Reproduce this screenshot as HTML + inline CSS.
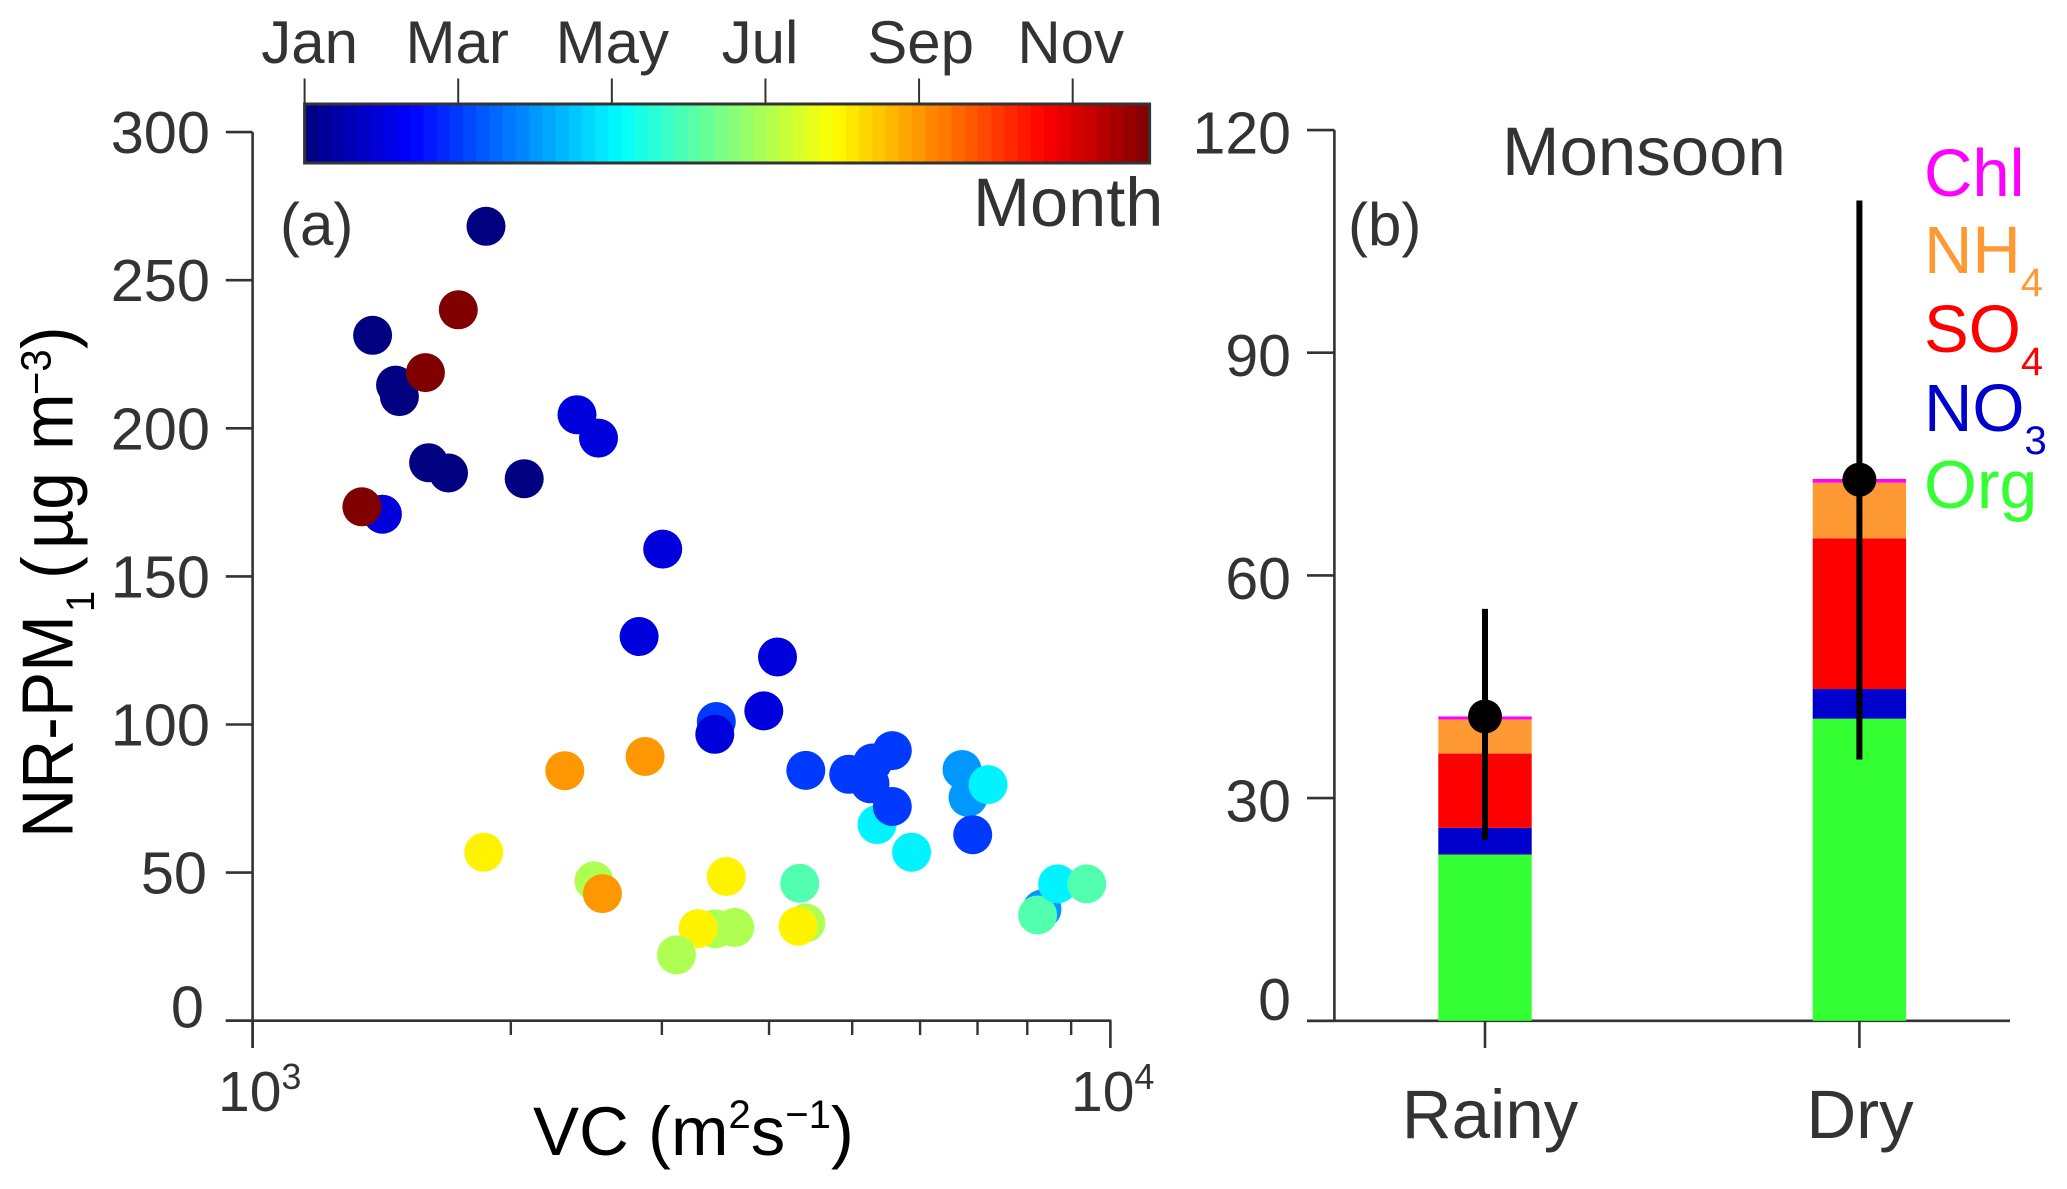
<!DOCTYPE html>
<html lang="en">
<head>
<meta charset="utf-8">
<title>NR-PM1 vs VC and Monsoon composition</title>
<style>
html,body{margin:0;padding:0;background:#fff;}
svg{display:block;}
text{font-family:"Liberation Sans",Arial,sans-serif;}
</style>
</head>
<body>
<svg id="chart" xmlns="http://www.w3.org/2000/svg" width="2067" height="1189" viewBox="0 0 2067 1189">
<rect x="0" y="0" width="2067" height="1189" fill="#fff"/>
<g id="panelA"></g>
<g id="panelB"></g>
<text transform="translate(72.7,838) rotate(-90) scale(1,1.06)" font-size="68" fill="#000">NR-PM<tspan x="226" dy="20" font-size="38">1</tspan><tspan x="259" dy="-20">(</tspan><tspan x="289">µg</tspan><tspan x="388">m</tspan><tspan x="443" dy="-21" font-size="40">−3</tspan><tspan x="489" dy="21">)</tspan></text>
<text x="533" y="1155" font-size="69" fill="#000">VC (m<tspan font-size="40" dy="-27">2</tspan><tspan dy="27">s</tspan><tspan font-size="40" dy="-27">−1</tspan><tspan dy="27">)</tspan></text>
<text x="218" y="1111" font-size="57" fill="#333">10<tspan font-size="36" dy="-22">3</tspan></text>
<text x="1071" y="1111" font-size="57" fill="#333">10<tspan font-size="36" dy="-22">4</tspan></text>
<text x="973" y="226" font-size="68.5" fill="#333">Month</text>
<text x="280" y="245" font-size="60" fill="#333">(a)</text>
<text x="1348" y="245" font-size="60" fill="#333">(b)</text>
<text x="1502" y="175" font-size="69" fill="#333">Monsoon</text>
<text x="1924" y="196" font-size="67" fill="#ff00ff">Chl</text>
<text x="1924" y="273" font-size="67" fill="#ff9933">NH<tspan font-size="40" dy="23">4</tspan></text>
<text x="1924" y="352" font-size="67" fill="#ff0000">SO<tspan font-size="40" dy="23">4</tspan></text>
<text x="1924" y="431" font-size="67" fill="#0000cc">NO<tspan font-size="40" dy="23">3</tspan></text>
<text x="1924" y="508" font-size="68" fill="#33ff33">Org</text>
</svg>
<script>
// Panel (a) data
const vc = [1871,1380,1468,1483,2389,2531,1604,1692,2073,1417,3007,2822,4092,3944,3472,3458,
  4415,4953,5279,5245,5344,5569,5569,6714,6823,7200,6910,5864,
  1737,1590,1341,2312,2868,
  1860,2500,2557,3566,4343,3464,3648,3306,3120,4415,4325,8323,8226,8678,9384];
const pm1 = [268.2,231.4,214.6,210.7,204.6,196.7,188.4,184.9,183,171,159.2,129.7,122.8,104.6,101,96.7,
  84.5,83.2,87,80,66.2,91.2,72.3,84.8,75.4,79.7,62.8,56.9,
  240,218.8,173.5,84.4,89.2,
  56.9,47.2,42.9,48.7,46.4,31,31.5,31.1,22.2,33,31.9,37.7,35.7,46.2,46.2];
const pointMonth = [1,1,1,1,2,2,1,1,1,2,2,2,2,2,3,2,
  3,3,3,3,5,3,3,4,4,5,3,5,
  12,12,12,9,9,
  8,7,9,8,6,7,7,8,7,7,8,4,6,5,6];
const yTicksA = [0,50,100,150,200,250,300];
const xMajorTicksA = [1000,10000];
const xMinorTicksA = [2000,3000,4000,5000,6000,7000,8000,9000];
const colorbarTicks = [1,3,5,7,9,11];
const colorbarLabels = ['Jan','Mar','May','Jul','Sep','Nov'];
const monthMin = 1;
const monthMax = 12;
// Panel (b) data
const seasons = ['Rainy','Dry'];
const speciesNames = ['org','no3','so4','nh4','chl'];
const org = [22.4,40.7];
const no3 = [3.6,4.0];
const so4 = [10.0,20.3];
const nh4 = [4.6,7.5];
const chl = [0.4,0.5];
const meanPM = [41,72.9];
const errLow = [24.4,35.2];
const errHigh = [55.5,110.5];
const yTicksB = [0,30,60,90,120];

const NS = 'http://www.w3.org/2000/svg';
const AXIS = '#333';
function mk(parent, tag, attrs, txt){
  const e = document.createElementNS(NS, tag);
  for (const k in attrs) e.setAttribute(k, attrs[k]);
  if (txt !== undefined) e.textContent = txt;
  parent.appendChild(e);
  return e;
}
function jet(t){
  const c = v => Math.round(255*Math.max(0,Math.min(1,v)));
  const r = Math.min(4*t-1.5, -4*t+4.5);
  const g = Math.min(4*t-0.5, -4*t+3.5);
  const b = Math.min(4*t+0.5, -4*t+2.5);
  return 'rgb('+c(r)+','+c(g)+','+c(b)+')';
}
const xA = v => 252.6 + 857.8*(Math.log10(v)-3);
const yA = v => 1020.7 - 2.962*v;
const xBar = m => 304.6 + (m-monthMin)*(1149.5-304.6)/(monthMax-monthMin);
const yB = v => 1020.8 - 7.423*v;
const xB = i => 1485 + 374.4*i;

const A = document.getElementById('panelA');
const B = document.getElementById('panelB');

// Colorbar
const nColors = 64;
for (let i=0;i<nColors;i++){
  const s = mk(A,'rect',{x:(304.6+i*845/nColors).toFixed(2),y:104,width:(845/nColors+0.6).toFixed(2),height:59,fill:jet((i+0.5)/nColors)});
  
  
}
const cbFrame = mk(A,'rect',{x:304.6,y:104,width:845,height:59,fill:'none',stroke:AXIS,'stroke-width':3});


const cbOffsets = [5,-1,0.5,-5.5,1.5,-2];
colorbarTicks.forEach((m,i)=>{
  const t = mk(A,'line',{x1:xBar(m),x2:xBar(m),y1:78.5,y2:104,stroke:AXIS,'stroke-width':2});
  
  
  const l = mk(A,'text',{x:xBar(m)+cbOffsets[i],y:63,'font-size':60,fill:AXIS,'text-anchor':'middle'},colorbarLabels[i]);
  
  
});

// Panel a axes
const yAxisA = mk(A,'line',{x1:252.6,x2:252.6,y1:yA(300),y2:1048,stroke:AXIS,'stroke-width':2.6});


const xAxisA = mk(A,'line',{x1:225.8,x2:xA(10000)+1,y1:yA(0),y2:yA(0),stroke:AXIS,'stroke-width':2.6});


yTicksA.forEach(v=>{
  const t = mk(A,'line',{x1:225.8,x2:252.6,y1:yA(v),y2:yA(v),stroke:AXIS,'stroke-width':2.6});
  
  
  const off = v===0 ? 7 : 21;
  const right = v===0 ? 204 : (v===50 ? 207 : 210);
  const l = mk(A,'text',{x:right,y:yA(v)+off,'font-size':59.5,fill:AXIS,'text-anchor':'end'},String(v));
  
  
});
xMajorTicksA.forEach(v=>{
  const t = mk(A,'line',{x1:xA(v),x2:xA(v),y1:yA(0),y2:1048,stroke:AXIS,'stroke-width':2.6});
  
  
});
xMinorTicksA.forEach(v=>{
  const t = mk(A,'line',{x1:xA(v),x2:xA(v),y1:yA(0),y2:1035,stroke:AXIS,'stroke-width':2.4});
  
  
});

// Scatter
vc.forEach((v,i)=>{
  const c = mk(A,'circle',{cx:xA(v).toFixed(1),cy:yA(pm1[i]).toFixed(1),r:19.5,fill:jet((pointMonth[i]-monthMin)/(monthMax-monthMin))});
  
  
});

// Panel b axes
const yAxisB = mk(B,'line',{x1:1334.4,x2:1334.4,y1:yB(120),y2:yB(0),stroke:AXIS,'stroke-width':2.6});


const xAxisB = mk(B,'line',{x1:1307,x2:2010,y1:yB(0),y2:yB(0),stroke:AXIS,'stroke-width':2.6});


yTicksB.forEach(v=>{
  const t = mk(B,'line',{x1:1307,x2:1334.4,y1:yB(v),y2:yB(v),stroke:AXIS,'stroke-width':2.6});
  
  
  const off = v===0 ? -1 : 23.5;
  const l = mk(B,'text',{x:1291,y:yB(v)+off,'font-size':59,fill:AXIS,'text-anchor':'end'},String(v));
  
  
});

// Stacked bars
const speciesValues = [org,no3,so4,nh4,chl];
const speciesColors = ['#33ff33','#0000cc','#ff0000','#ff9933','#ff00ff'];
seasons.forEach((s,i)=>{
  let base = 0;
  speciesValues.forEach((arr,k)=>{
    const top = base + arr[i];
    const r = mk(B,'rect',{x:xB(i)-46.7,y:yB(top),width:93.4,height:yB(base)-yB(top),fill:speciesColors[k]});
    
    
    base = top;
  });
  const tick = mk(B,'line',{x1:xB(i),x2:xB(i),y1:yB(0),y2:1048,stroke:AXIS,'stroke-width':2.6});
  
  
  const lab = mk(B,'text',{x:i===0?1490:1860,y:1138,'font-size':69,fill:AXIS,'text-anchor':'middle'},s);
  
  
  const err = mk(B,'line',{x1:xB(i),x2:xB(i),y1:yB(errLow[i]),y2:yB(errHigh[i]),stroke:'#000','stroke-width':6});
  
  
  const mean = mk(B,'circle',{cx:xB(i),cy:yB(meanPM[i]),r:17,fill:'#000'});
  
  
});
</script>
</body>
</html>
